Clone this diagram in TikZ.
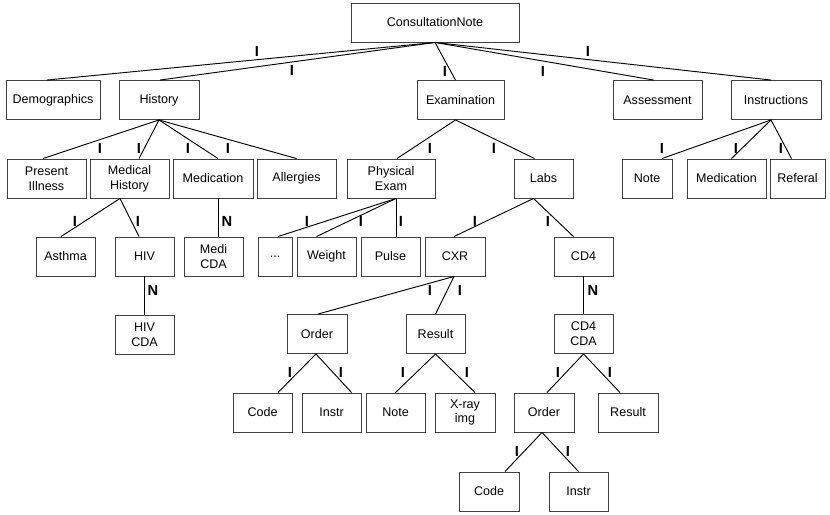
\documentclass[tikz,border=0pt]{standalone}
\usepackage{fontspec}
\setmainfont{Liberation Sans}
\newdimen\px \px=0.75pt
\tikzset{
  box/.style={draw=black!75, line width=0.7pt, minimum height=39\px, inner sep=0pt, align=center,
    font=\fontsize{9.4}{11.2}\selectfont},
  lbl/.style={font=\fontsize{11}{12}\selectfont\bfseries, inner sep=0pt},
  conn/.style={line width=0.7pt}
}
\begin{document}
\begin{tikzpicture}[x=0.75pt,y=-0.75pt]
\useasboundingbox (0,0) rectangle (830,514);
% row 0
\node[box,minimum width=168\px] (cn) at (435,22.5) {ConsultationNote};
% row 1
\node[box,minimum width=94\px] (demo) at (53,100) {Demographics};
\node[box,minimum width=80\px] (hist) at (159,100) {History};
\node[box,minimum width=87\px] (exam) at (460.5,100) {Examination};
\node[box,minimum width=89\px] (assess) at (657.5,100) {Assessment};
\node[box,minimum width=90\px] (instr) at (776,100) {Instructions};
% row 2
\node[box,minimum width=79\px] (pi) at (46.5,178.5) {Present\\Illness};
\node[box,minimum width=79\px] (mh) at (129.5,178.5) {Medical\\History};
\node[box,minimum width=80\px] (med) at (213,178.5) {Medication};
\node[box,minimum width=79\px] (all) at (296.5,178.5) {Allergies};
\node[box,minimum width=88\px] (pe) at (391,178.5) {Physical\\Exam};
\node[box,minimum width=59\px] (labs) at (543.5,178.5) {Labs};
\node[box,minimum width=50\px] (inote) at (647,178.5) {Note};
\node[box,minimum width=79\px] (imed) at (726.5,178.5) {Medication};
\node[box,minimum width=55\px] (ref) at (797.5,178.5) {Referal};
% row 3
\node[box,minimum width=59\px] (asthma) at (65.5,256.5) {Asthma};
\node[box,minimum width=59\px] (hiv) at (144.5,256.5) {HIV};
\node[box,minimum width=59\px] (medi) at (213.5,256.5) {Medi\\CDA};
\node[box,minimum width=34\px] (dots) at (275,256.5) {...};
\node[box,minimum width=59\px] (weight) at (326.5,256.5) {Weight};
\node[box,minimum width=59\px] (pulse) at (390.5,256.5) {Pulse};
\node[box,minimum width=60\px] (cxr) at (455,256.5) {CXR};
\node[box,minimum width=59\px] (cd4) at (583.5,256.5) {CD4};
% row 4
\node[box,minimum width=59\px] (hivcda) at (144.5,334.5) {HIV\\CDA};
\node[box,minimum width=60\px] (order1) at (317,334) {Order};
\node[box,minimum width=59\px] (result1) at (435.5,334) {Result};
\node[box,minimum width=59\px] (cd4cda) at (583.5,334) {CD4\\CDA};
% row 5
\node[box,minimum width=59\px] (code1) at (262.5,412.5) {Code};
\node[box,minimum width=59\px] (instr1) at (331.5,412.5) {Instr};
\node[box,minimum width=59\px] (note2) at (395.5,412.5) {Note};
\node[box,minimum width=60\px] (xray) at (465,412.5) {X-ray\\img};
\node[box,minimum width=60\px] (order2) at (544,412.5) {Order};
\node[box,minimum width=60\px] (result2) at (628,412.5) {Result};
% row 6
\node[box,minimum width=60\px] (code2) at (489,491.5) {Code};
\node[box,minimum width=59\px] (instr2) at (578.5,491.5) {Instr};

% connectors
\draw[conn] (cn.south) -- ([xshift=-6\px]demo.north);
\draw[conn] (cn.south) -- ([xshift=1\px]hist.north);
\draw[conn] (cn.south) -- ([xshift=-5\px]exam.north);
\draw[conn] (cn.south) -- ([xshift=-4\px]assess.north);
\draw[conn] (cn.south) -- ([xshift=-5\px]instr.north);

\draw[conn] (hist.south) -- ([xshift=-3.5\px]pi.north);
\draw[conn] (hist.south) -- ([xshift=9.5\px]mh.north);
\draw[conn] (hist.south) -- ([xshift=5\px]med.north);
\draw[conn] (hist.south) -- (all.north);

\draw[conn] ([xshift=-5\px]exam.south) -- ([xshift=6\px]pe.north);
\draw[conn] ([xshift=-5\px]exam.south) -- ([xshift=-9\px]labs.north);

\draw[conn] ([xshift=-5\px]instr.south) -- ([xshift=15\px]inote.north);
\draw[conn] ([xshift=-5\px]instr.south) -- ([xshift=5\px]imed.north);
\draw[conn] ([xshift=-5\px]instr.south) -- ([xshift=-6\px]ref.north);

\draw[conn] ([xshift=-9.5\px]mh.south) -- ([xshift=-4.5\px]asthma.north);
\draw[conn] ([xshift=-9.5\px]mh.south) -- ([xshift=-5.5\px]hiv.north);
\draw[conn] ([xshift=5\px]med.south) -- ([xshift=4.5\px]medi.north);
\draw[conn] (hiv.south) -- (hivcda.north);

\draw[conn] ([xshift=5\px]pe.south) -- ([xshift=3\px]dots.north);
\draw[conn] ([xshift=5\px]pe.south) -- ([xshift=-10\px]weight.north);
\draw[conn] ([xshift=5\px]pe.south) -- ([xshift=5.5\px]pulse.north);

\draw[conn] ([xshift=-10\px]labs.south) -- ([xshift=-1\px]cxr.north);
\draw[conn] ([xshift=-10\px]labs.south) -- ([xshift=-10\px]cd4.north);

\draw[conn] ([xshift=-1\px]cxr.south) -- ([xshift=1\px]order1.north);
\draw[conn] ([xshift=-1\px]cxr.south) -- (result1.north);
\draw[conn] (cd4.south) -- (cd4cda.north);

\draw[conn] ([xshift=-1\px]order1.south) -- ([xshift=15.5\px]code1.north);
\draw[conn] ([xshift=-1\px]order1.south) -- ([xshift=20\px]instr1.north);
\draw[conn] (result1.south) -- (note2.north);
\draw[conn] (result1.south) -- ([xshift=10\px]xray.north);
\draw[conn] (cd4cda.south) -- ([xshift=3\px]order2.north);
\draw[conn] (cd4cda.south) -- ([xshift=-8\px]result2.north);
\draw[conn] ([xshift=-2\px]order2.south) -- ([xshift=16\px]code2.north);
\draw[conn] ([xshift=-2\px]order2.south) -- (instr2.north);

% labels
\node[lbl] (l1) at (257,51) {I};
\node[lbl] (l2) at (292,70) {I};
\node[lbl] (l3) at (445,71) {I};
\node[lbl] (l4) at (543,71) {I};
\node[lbl] (l5) at (588,51) {I};
\node[lbl] (l6) at (100,148) {I};
\node[lbl] (l7) at (139,148) {I};
\node[lbl] (l8) at (188,148) {I};
\node[lbl] (l9) at (228,148) {I};
\node[lbl] (l10) at (430,148) {I};
\node[lbl] (l11) at (494,148) {I};
\node[lbl] (l12) at (662,148) {I};
\node[lbl] (l13) at (736,148) {I};
\node[lbl] (l14) at (781,148) {I};
\node[lbl] (l15) at (75,221) {I};
\node[lbl] (l16) at (138,221) {I};
\node[lbl] (l17) at (227,221) {N};
\node[lbl] (l18) at (153,290) {N};
\node[lbl] (l19) at (307,221) {I};
\node[lbl] (l20) at (361,221) {I};
\node[lbl] (l21) at (401,221) {I};
\node[lbl] (l22) at (475,221) {I};
\node[lbl] (l23) at (548,221) {I};
\node[lbl] (l24) at (430,290) {I};
\node[lbl] (l25) at (460,290) {I};
\node[lbl] (l26) at (593,290) {N};
\node[lbl] (l27) at (290,372) {I};
\node[lbl] (l28) at (341,372) {I};
\node[lbl] (l29) at (403,372) {I};
\node[lbl] (l30) at (467,372) {I};
\node[lbl] (l31) at (558,372) {I};
\node[lbl] (l32) at (610,372) {I};
\node[lbl] (l33) at (517,451) {I};
\node[lbl] (l34) at (568,451) {I};
\end{tikzpicture}
\end{document}
